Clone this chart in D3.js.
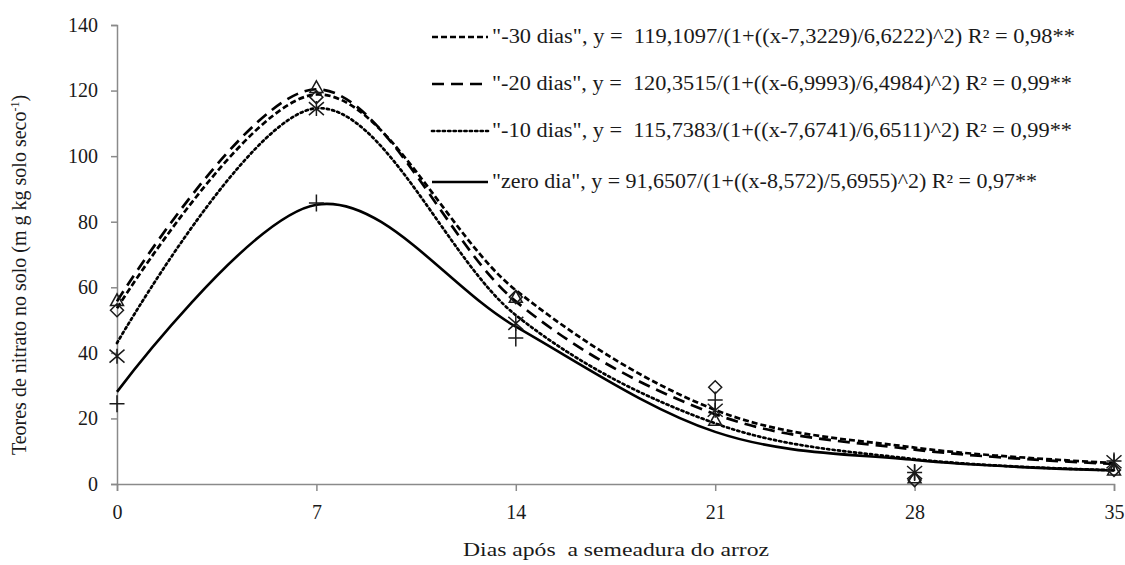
<!DOCTYPE html>
<html>
<head>
<meta charset="utf-8">
<script src="https://cdn.jsdelivr.net/npm/d3@7"></script>
<style>
  html, body { margin: 0; padding: 0; background: #fff; }
  svg { display: block; }
  svg text { white-space: pre; font-family: "Liberation Serif", "Times New Roman", Times, "DejaVu Serif", "Noto Serif", serif; }
</style>
</head>
<body>
<svg id="chart" width="1125" height="565"></svg>
<script>
// Sampling days (x) and measured nitrate values per treatment
const days = [0, 7, 14, 21, 28, 35];
const seriesNames = ["-30 dias", "-20 dias", "-10 dias", "zero dia"];
const obs30 = [53, 118, 57, 29.5, 1.2, 4.3];
const obs20 = [56, 121, 57, 19.5, 2, 4.3];
const obs10 = [39, 114.5, 49, 22.5, 3.5, 6.8];
const obsZero = [24.5, 85.7, 44.5, 25.6, 3.5, 7];

// Fitted (regression) values on the sampling days, drawn as smoothed lines
const fit30 = [53.6, 118.8, 59.1, 22.6, 11.1, 6.4];
const fit20 = [55.7, 120.4, 55.7, 21.3, 10.5, 6.1];
const fit10 = [43.0, 114.6, 51.5, 18.5, 7.6, 4.2];
const fitZero = [28.1, 85.2, 48.0, 15.9, 7.3, 4.1];

// Legend equations as printed
const legendText = [
  '"-30 dias", y =  119,1097/(1+((x-7,3229)/6,6222)^2) R\u00B2 = 0,98**',
  '"-20 dias", y =  120,3515/(1+((x-6,9993)/6,4984)^2) R\u00B2 = 0,99**',
  '"-10 dias", y =  115,7383/(1+((x-7,6741)/6,6511)^2) R\u00B2 = 0,99**',
  '"zero dia", y = 91,6507/(1+((x-8,572)/5,6955)^2) R\u00B2 = 0,97**'
];

// Axis ticks
const xTicks = [0, 7, 14, 21, 28, 35];
const yTicks = [0, 20, 40, 60, 80, 100, 120, 140];

const observed = [obs30, obs20, obs10, obsZero];
const fitted = [fit30, fit20, fit10, fitZero];
const lineDash = ["6,3", "12,7", "2.2,3.2", null];
const markerType = ["diamond", "triangle", "star", "plus"];

const FONT = '"Liberation Serif", "Times New Roman", Times, "DejaVu Serif", serif';
const svg = d3.select("#chart");
const axisColor = "#8a8a8a";

const x = d3.scaleLinear().domain([0, 35]).range([117, 1114]);
const y = d3.scaleLinear().domain([0, 140]).range([484, 25]);

// Y axis
const yAxis = svg.append("g").attr("transform", `translate(${x(0)},0)`)
  .attr("font-family", FONT)
  .call(d3.axisLeft(y).tickValues(yTicks).tickSize(6).tickPadding(13));
yAxis.select(".domain").attr("stroke", axisColor).attr("stroke-width", 1.5);
yAxis.selectAll(".tick line").attr("stroke", axisColor).attr("stroke-width", 1.5);
yAxis.selectAll(".tick text").attr("font-size", 20).attr("fill", "#1a1a1a")
  .attr("font-family", FONT);

// X axis
const xAxis = svg.append("g").attr("transform", `translate(0,${y(0)})`)
  .attr("font-family", FONT)
  .call(d3.axisBottom(x).tickValues(xTicks).tickSize(7).tickPadding(14));
xAxis.select(".domain").attr("stroke", axisColor).attr("stroke-width", 1.5);
xAxis.selectAll(".tick line").attr("stroke", axisColor).attr("stroke-width", 1.5);
xAxis.selectAll(".tick text").attr("font-size", 20).attr("fill", "#1a1a1a")
  .attr("font-family", FONT);

// Axis titles
svg.append("text")
  .attr("x", 616).attr("y", 556)
  .attr("text-anchor", "middle").attr("font-size", 19).attr("fill", "#1a1a1a")
  .attr("font-family", FONT)
  .attr("textLength", 306).attr("lengthAdjust", "spacingAndGlyphs")
  .text("Dias após  a semeadura do arroz");

const yTitle = svg.append("text")
  .attr("transform", "translate(26,275) rotate(-90)")
  .attr("text-anchor", "middle").attr("font-size", 20).attr("fill", "#1a1a1a")
  .attr("font-family", FONT);
yTitle.append("tspan").text("Teores de nitrato no solo (m g kg solo seco");
yTitle.append("tspan").attr("font-size", 12).attr("dy", -7).text("-1");
yTitle.append("tspan").attr("dy", 7).text(")");

// Fitted curves, smoothed through the fitted values
const line = d3.line().x((d, j) => x(days[j])).y(d => y(d)).curve(d3.curveCatmullRom.alpha(0));
const plot = svg.append("g");
fitted.forEach((vals, i) => {
  plot.append("path")
    .datum(vals)
    .attr("fill", "none")
    .attr("stroke", "#000")
    .attr("stroke-width", i === 3 ? 2.6 : 2.7)
    .attr("stroke-dasharray", lineDash[i])
    .attr("stroke-linecap", i === 2 ? "round" : "butt")
    .attr("d", line);
});

// Observation markers
function drawMarker(g, type, cx, cy) {
  const s = 6.5;
  let d;
  if (type === "diamond") {
    d = `M${cx},${cy - s}L${cx + s},${cy}L${cx},${cy + s}L${cx - s},${cy}Z`;
  } else if (type === "triangle") {
    d = `M${cx},${cy - s}L${cx + s},${cy + s * 0.8}L${cx - s},${cy + s * 0.8}Z`;
  } else if (type === "star") {
    d = `M${cx},${cy - s - 1}L${cx},${cy + s + 1}` +
        `M${cx - s - 1},${cy - s}L${cx + s + 1},${cy + s}` +
        `M${cx + s + 1},${cy - s}L${cx - s - 1},${cy + s}`;
  } else {
    d = `M${cx - s - 1},${cy}L${cx + s + 1},${cy}M${cx},${cy - s - 2}L${cx},${cy + s + 2}`;
  }
  g.append("path").attr("d", d)
    .attr("stroke", "#1a1a1a").attr("stroke-width", 1.5).attr("fill", "none");
}
const marks = svg.append("g");
observed.forEach((vals, i) => {
  vals.forEach((v, j) => drawMarker(marks, markerType[i], x(days[j]), y(v)));
});

// Legend
const legendRowY = [37, 84, 131, 182];
const legendWidths = [583, 580, 580, 545];
const legend = svg.append("g");
seriesNames.forEach((name, i) => {
  legend.append("line")
    .attr("x1", 432).attr("x2", 488)
    .attr("y1", legendRowY[i]).attr("y2", legendRowY[i])
    .attr("stroke", "#000").attr("stroke-width", 2.7)
    .attr("stroke-dasharray", lineDash[i])
    .attr("stroke-linecap", i === 2 ? "round" : "butt");
  legend.append("text")
    .attr("x", 492).attr("y", legendRowY[i] + 6)
    .attr("font-size", 20).attr("fill", "#1a1a1a")
    .attr("font-family", FONT)
    .attr("textLength", legendWidths[i])
    .attr("lengthAdjust", "spacingAndGlyphs")
    .text(legendText[i]);
});
</script>
</body>
</html>
